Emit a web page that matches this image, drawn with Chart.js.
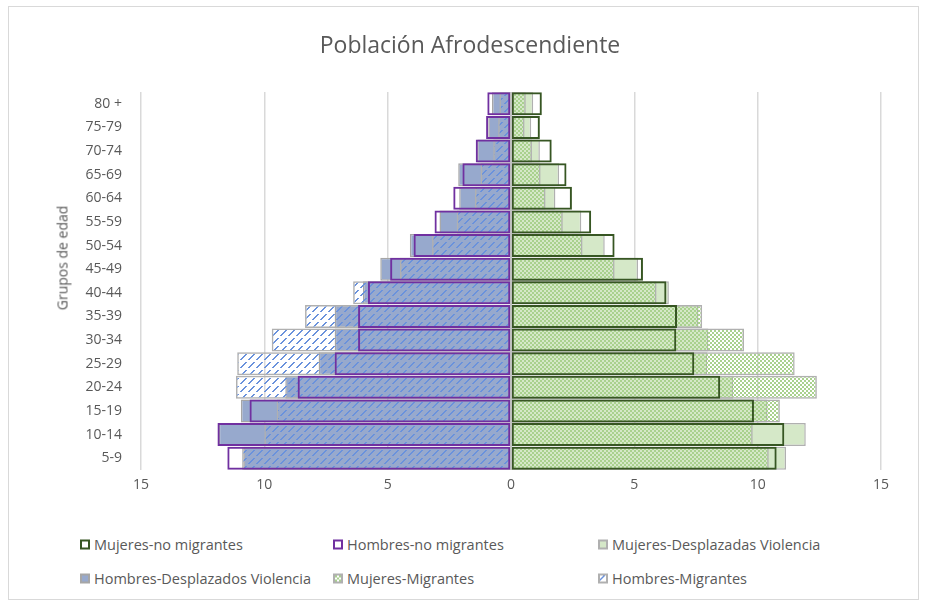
<!DOCTYPE html>
<html>
<head>
<meta charset="utf-8">
<script src="https://cdn.jsdelivr.net/npm/chart.js@4.4.1/dist/chart.umd.min.js"></script>
<style>
html, body { margin: 0; padding: 0; background: #fff; }
#wrap { position: relative; width: 927px; height: 608px; overflow: hidden; font-family: 'Open Sans', sans-serif; color: #595959; }
#frame { position: absolute; left: 8px; top: 6px; width: 911px; height: 594px; border: 1px solid #d9d9d9; box-sizing: border-box; }
#cv { position: absolute; left: 0; top: 0; }
#title { position: absolute; left: 270px; width: 400px; top: 29px; text-align: center; font-size: 23px; line-height: 30px; }
#ytitle { position: absolute; left: 62px; top: 258px; font-size: 14px; font-weight: 400; white-space: nowrap; transform: translate(-50%, -50%) rotate(-90deg); }
.lg { position: absolute; display: flex; align-items: center; font-size: 14.5px; white-space: nowrap; transform: translateY(-50%); }
.lg canvas { margin-right: 4px; }
</style>
</head>
<body>
<div id="wrap">
  <div id="frame"></div>
  <canvas id="cv" width="927" height="500"></canvas>
  <div id="title">Población Afrodescendiente</div>
  <div id="ytitle">Grupos de edad</div>
</div>
<script>
'use strict';

const AGES = ['80 +', '75-79', '70-74', '65-69', '60-64', '55-59', '50-54', '45-49', '40-44', '35-39', '30-34', '25-29', '20-24', '15-19', '10-14', '5-9'];

const H_NOMIG = [0.96, 1.01, 1.43, 1.97, 2.34, 3.1, 3.95, 4.9, 5.8, 6.2, 6.2, 7.15, 8.65, 10.6, 11.9, 11.5];
const H_DESP  = [0.77, 0.92, 1.37, 2.14, 2.1, 2.9, 4.1, 5.3, 6.0, 7.15, 7.15, 7.8, 9.15, 10.95, 11.85, 10.85];
const H_MIG   = [0.47, 0.52, 0.72, 1.23, 1.46, 2.2, 3.2, 4.5, 6.4, 8.35, 9.7, 11.1, 11.15, 9.5, 10.0, 10.9];

const M_NOMIG = [1.25, 1.17, 1.65, 2.25, 2.47, 3.25, 4.2, 5.35, 6.3, 6.73, 6.7, 7.43, 8.48, 9.85, 11.08, 10.77];
const M_DESP  = [0.9, 0.82, 1.17, 1.95, 1.8, 2.85, 3.8, 5.15, 6.4, 7.6, 8.0, 7.95, 9.0, 10.4, 11.95, 11.15];
const M_MIG   = [0.6, 0.55, 0.85, 1.2, 1.4, 2.1, 2.9, 4.2, 5.9, 7.75, 9.45, 11.5, 12.4, 10.9, 9.8, 10.45];

const TXT = '#595959';
const FONT = 'Open Sans';

function tile(w, h, draw) {
  const c = document.createElement('canvas');
  c.width = w; c.height = h;
  draw(c.getContext('2d'));
  return c;
}
// dashed upward diagonal (hombres migrantes)
const hatchTile = tile(8, 8, g => {
  g.fillStyle = '#6a92dc';
  for (let i = 0; i < 8; i++) if (i < 6) g.fillRect(i, 7 - i, 2, 1);
});
// small checkerboard (mujeres migrantes)
const checkTile = tile(4, 4, g => {
  g.fillStyle = '#a9d18e';
  g.fillRect(0, 0, 2, 2);
  g.fillRect(2, 2, 2, 2);
});

const cv = document.getElementById('cv');
const ctx = cv.getContext('2d');
const hatch = ctx.createPattern(hatchTile, 'repeat');
const check = ctx.createPattern(checkTile, 'repeat');

const neg = a => a.map(v => -v);
const bar = (label, data, o) => Object.assign({
  label, data, grouped: false, borderSkipped: false, barPercentage: 1, categoryPercentage: 0.97
}, o);

const zeroLine = {
  id: 'zeroLine',
  afterDatasetsDraw(c) {
    const x = c.scales.x.getPixelForValue(0);
    const g = c.ctx;
    g.save();
    g.strokeStyle = '#bfbfbf';
    g.lineWidth = 2;
    g.beginPath();
    g.moveTo(x, c.chartArea.top);
    g.lineTo(x, c.chartArea.bottom);
    g.stroke();
    g.restore();
  }
};

const chart = new Chart(ctx, {
  type: 'bar',
  data: {
    labels: AGES,
    datasets: [
      bar('Mujeres-no migrantes', M_NOMIG, { backgroundColor: 'rgba(0,0,0,0)', borderColor: '#375623', borderWidth: 2, order: 0 }),
      bar('Hombres-no migrantes', neg(H_NOMIG), { backgroundColor: 'rgba(0,0,0,0)', borderColor: '#7030a0', borderWidth: 2, order: 0 }),
      bar('Mujeres-Desplazadas Violencia', M_DESP, { backgroundColor: '#d5e8c8', borderColor: '#b0b0b0', borderWidth: 1.5, order: 2 }),
      bar('Hombres-Desplazados Violencia', neg(H_DESP), { backgroundColor: '#97a9cd', borderColor: '#a6a6a6', borderWidth: 1.5, order: 2 }),
      bar('Mujeres-Migrantes', M_MIG, { backgroundColor: check, borderColor: '#b0b0b0', borderWidth: 1.5, order: 1 }),
      bar('Hombres-Migrantes', neg(H_MIG), { backgroundColor: hatch, borderColor: '#b0b0b0', borderWidth: 1.5, order: 1 })
    ]
  },
  options: {
    indexAxis: 'y',
    responsive: false,
    animation: false,
    layout: { padding: { left: 0, right: 46, top: 92, bottom: 0 } },
    plugins: {
      legend: { display: false },
      tooltip: { enabled: false }
    },
    scales: {
      x: {
        min: -15, max: 15,
        ticks: { stepSize: 5, callback: v => Math.abs(v), color: TXT, font: { family: FONT, size: 14 }, padding: 7 },
        grid: { color: '#d9d9d9', lineWidth: 1.5, drawTicks: false },
        border: { display: false },
        afterFit: s => { s.height = 30; }
      },
      y: {
        ticks: { color: TXT, font: { family: FONT, size: 14 }, padding: 19 },
        grid: { display: false, drawTicks: false },
        border: { display: false },
        afterFit: s => { s.width = 141; }
      }
    }
  },
  plugins: [zeroLine]
});

// legend in Excel-like grid
const LEG_COL = [80, 333, 598];
const LEG_ROW = [544, 578];
const SW_TILE = [null, null, null, null, checkTile, hatchTile];
const wrap = document.getElementById('wrap');
chart.data.datasets.forEach((d, i) => {
  const item = document.createElement('div');
  item.className = 'lg';
  item.style.left = LEG_COL[i % 3] + 'px';
  item.style.top = LEG_ROW[Math.floor(i / 3)] + 'px';
  const sw = document.createElement('canvas');
  sw.width = 10; sw.height = 10;
  const g = sw.getContext('2d');
  g.fillStyle = SW_TILE[i] ? g.createPattern(SW_TILE[i], 'repeat') : (d.backgroundColor === 'rgba(0,0,0,0)' ? '#fff' : d.backgroundColor);
  g.fillRect(0, 0, 10, 10);
  g.strokeStyle = d.borderColor;
  g.lineWidth = 2;
  g.strokeRect(1, 1, 8, 8);
  item.appendChild(sw);
  item.appendChild(document.createTextNode(d.label));
  wrap.appendChild(item);
});
</script>
</body>
</html>
